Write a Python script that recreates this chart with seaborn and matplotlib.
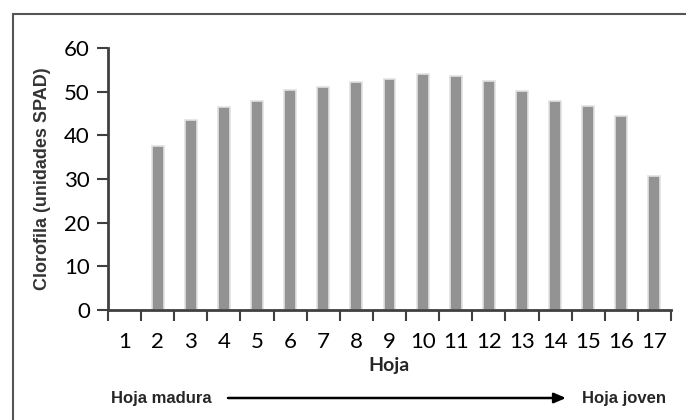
import numpy as np
import pandas as pd
import matplotlib
matplotlib.use('Agg')
import matplotlib.pyplot as plt
from matplotlib.patches import Rectangle
from matplotlib.ticker import FixedLocator
import seaborn as sns

# Data (leaf 1 has no bar)
hojas = [str(i) for i in range(1, 18)]
clorofila = [np.nan, 37.5, 43.5, 46.5, 47.9, 50.3, 51.0, 52.2, 52.9,
             54.1, 53.5, 52.4, 50.1, 47.9, 46.7, 44.4, 30.7]
y_ticks = [0, 10, 20, 30, 40, 50, 60]

df = pd.DataFrame({'Hoja': hojas, 'Clorofila': clorofila})

sns.set_style('white')
plt.rcParams['font.family'] = ['Lato', 'DejaVu Sans']

fig = plt.figure(figsize=(6.86, 4.2), dpi=100)
ax = fig.add_axes([108 / 686, 110 / 420, 563 / 686, 262 / 420])

sns.barplot(data=df, x='Hoja', y='Clorofila', order=hojas, color='#939393',
            saturation=1, width=0.36, edgecolor='#e2e2e2', linewidth=1.2, ax=ax)

ax.set_xlim(-0.5, len(hojas) - 0.5)
ax.set_ylim(0, 60)
ax.set_yticks(y_ticks)
ax.set_yticklabels([str(t) for t in y_ticks], fontsize=16)
ax.set_xticks(range(len(hojas)))
ax.set_xticklabels(hojas, fontsize=16)
ax.xaxis.set_minor_locator(FixedLocator(np.arange(-0.5, len(hojas), 1.0)))

# seaborn's white style switches the tick marks off, turn them back on
ax.tick_params(axis='x', which='major', bottom=True, length=0, pad=16)
ax.tick_params(axis='x', which='minor', bottom=True, length=8, width=1.5,
               color='#404040', direction='out')
ax.tick_params(axis='y', which='major', left=True, length=8, width=1.5,
               color='#404040', direction='out', pad=5)
ax.tick_params(axis='both', labelcolor='black')

sns.despine(ax=ax)
for s in ['left', 'bottom']:
    ax.spines[s].set_color('#404040')
    ax.spines[s].set_linewidth(2)

ax.set_ylabel('Clorofila (unidades SPAD)', fontsize=13, fontweight='bold',
              family='Liberation Sans', color='#333333', va='center')
ax.yaxis.set_label_coords(-66 / 563, 0.5)
ax.set_xlabel('Hoja', fontsize=14, fontweight='bold', va='center')
ax.xaxis.set_label_coords(0.5, -55 / 262)

# direction arrow under the chart
fig.text(111 / 686, 22 / 420, 'Hoja madura', fontsize=12, fontweight='bold',
         family='Liberation Sans', ha='left', va='center')
fig.text(582 / 686, 22 / 420, 'Hoja joven', fontsize=12, fontweight='bold',
         family='Liberation Sans', ha='left', va='center')
ax.annotate('', xy=(566 / 686, 22 / 420), xytext=(228 / 686, 22 / 420),
            xycoords='figure fraction', textcoords='figure fraction',
            arrowprops=dict(arrowstyle='-|>,head_length=0.7,head_width=0.3',
                            color='black', lw=1.8, shrinkA=0, shrinkB=0))

# outer frame, cut off on the right and bottom like the reference
fig.patches.append(Rectangle((13 / 686, -0.1), 1.0, (406 / 420) + 0.1,
                             transform=fig.transFigure, fill=False,
                             edgecolor='#555555', linewidth=1.5))

fig.savefig('out.png', dpi=100)
